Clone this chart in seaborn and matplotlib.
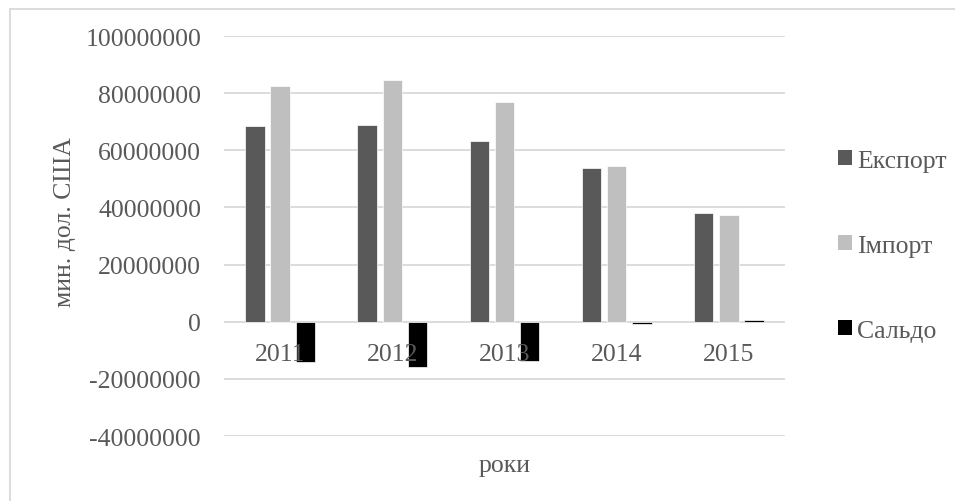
import matplotlib
matplotlib.use("Agg")
import matplotlib.pyplot as plt
from matplotlib.patches import Patch
from matplotlib.lines import Line2D
import seaborn as sns
import pandas as pd

years = ["2011", "2012", "2013", "2014", "2015"]
series = ["Експорт", "Імпорт", "Сальдо"]
export_vals = [68400000, 68800000, 63300000, 53900000, 38100000]
import_vals = [82600000, 84700000, 77000000, 54400000, 37500000]
saldo_vals = [-14200000, -15900000, -13700000, -700000, 600000]
y_ticks = [-40000000, -20000000, 0, 20000000, 40000000, 60000000, 80000000, 100000000]
y_label = "мин. дол. США"
x_label = "роки"

colors = {"Експорт": "#595959", "Імпорт": "#BFBFBF", "Сальдо": "#000000"}
text_color = "#595959"
grid_color = "#D9D9D9"

df = pd.DataFrame({
    "year": years * 3,
    "series": [series[0]] * 5 + [series[1]] * 5 + [series[2]] * 5,
    "value": export_vals + import_vals + saldo_vals,
})

sns.set_style("white")
plt.rcParams["font.family"] = ["Liberation Serif", "DejaVu Serif"]
FS = 18.5

fig = plt.figure(figsize=(9.55, 5.02), dpi=100)
ax = fig.add_axes([224 / 955, 1 - 437 / 502, 561 / 955, 400 / 502])

sns.barplot(data=df, x="year", y="value", hue="series", palette=colors,
            order=years, hue_order=series, width=0.675, gap=0.23,
            edgecolor="white", linewidth=0.5, legend=False, ax=ax, zorder=2)

ax.set_xlim(-0.5, 4.5)
ax.set_ylim(-40000000, 100000000)
ax.set_yticks(y_ticks)
ax.set_yticklabels([str(v) for v in y_ticks])
ax.grid(False)
for v in y_ticks:
    ax.axhline(v, color=grid_color, linewidth=1.3, zorder=0)
ax.set_axisbelow(False)

for s in ["top", "right", "left"]:
    ax.spines[s].set_visible(False)
ax.spines["bottom"].set_position(("data", 0))
ax.spines["bottom"].set_visible(False)

ax.tick_params(axis="y", length=0, pad=16.5, labelsize=FS, labelcolor=text_color)
ax.tick_params(axis="x", length=0, pad=15, labelsize=FS, labelcolor=text_color)

ax.set_xlabel(x_label, fontsize=FS, color=text_color)
ax.xaxis.set_label_coords(0.5, -0.0725)
ax.xaxis.label.set_va("center")
ax.set_ylabel(y_label, fontsize=FS, color=text_color)
ax.yaxis.set_label_coords(-0.2834, 0.537)
ax.yaxis.label.set_va("center")

handles = [Patch(facecolor=colors[s], edgecolor="none", label=s) for s in series]
leg = ax.legend(handles=handles, loc="center left",
                bbox_to_anchor=(838.3 / 955, 1 - 247 / 502),
                bbox_transform=fig.transFigure, frameon=False,
                fontsize=FS, handlelength=0.52, handleheight=0.52,
                handletextpad=0.22, borderpad=0, borderaxespad=0,
                labelspacing=2.45)
for t in leg.get_texts():
    t.set_color(text_color)

# outer chart border (only left and top visible in frame)
fig.add_artist(Line2D([9.5 / 955, 9.5 / 955], [0, 1 - 9.5 / 502],
                      transform=fig.transFigure, color=grid_color, linewidth=1.3))
fig.add_artist(Line2D([9.5 / 955, 1], [1 - 9.5 / 502, 1 - 9.5 / 502],
                      transform=fig.transFigure, color=grid_color, linewidth=1.3))

fig.savefig("out.png", dpi=100, facecolor="white")
